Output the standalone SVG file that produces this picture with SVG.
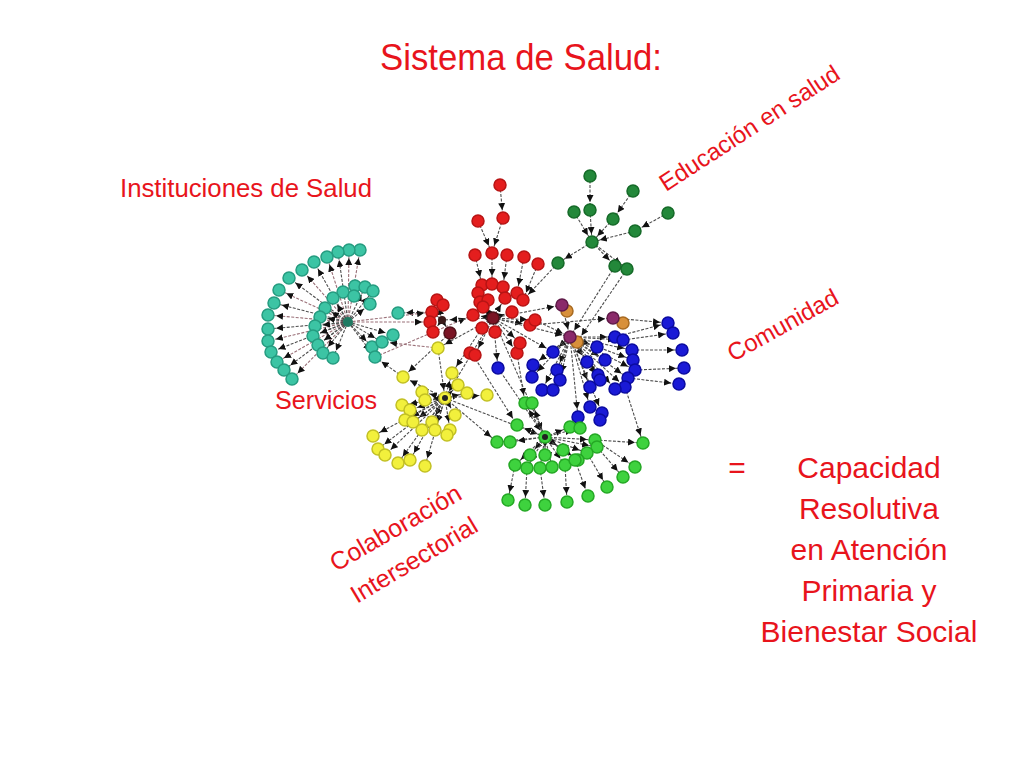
<svg xmlns="http://www.w3.org/2000/svg" width="1024" height="768" viewBox="0 0 1024 768">
<style>
.lbl{font-family:"Liberation Sans",Arial,sans-serif;fill:#e8141c}
.e{stroke:#4e4e4e;stroke-width:1.1;stroke-dasharray:3 1.5;fill:none;marker-end:url(#ah)}
.ep{stroke:#9a7078;stroke-width:1.1;stroke-dasharray:3 1.5;fill:none;marker-end:url(#ah)}
.t{fill:#3cc4a4;stroke:#259c80;stroke-width:1.5}
.r{fill:#e41e1e;stroke:#b81414;stroke-width:1.5}
.dr{fill:#7a1424;stroke:#501018;stroke-width:1.5}
.g{fill:#23883a;stroke:#156a28;stroke-width:1.5}
.b{fill:#1a1ad6;stroke:#0b0ba0;stroke-width:1.5}
.y{fill:#f2f03c;stroke:#c2c024;stroke-width:1.5}
.lg{fill:#3ed23e;stroke:#24a824;stroke-width:1.5}
.p{fill:#8a2a6a;stroke:#601a48;stroke-width:1.5}
.o{fill:#d8903a;stroke:#a86a20;stroke-width:1.5}
</style>
<defs>
<marker id="ah" markerUnits="userSpaceOnUse" markerWidth="16" markerHeight="7" refX="15" refY="3.5" orient="auto"><path d="M0,0 L7,3.5 L0,7 z" fill="#111"/></marker>
</defs>
<rect width="1024" height="768" fill="#ffffff"/>

<g id="labels">
<text class="lbl" x="380" y="70" font-size="37" textLength="282" lengthAdjust="spacingAndGlyphs">Sistema de Salud:</text>
<text class="lbl" x="120" y="197" font-size="25" textLength="252" lengthAdjust="spacingAndGlyphs">Instituciones de Salud</text>
<text class="lbl" x="275" y="409" font-size="25" textLength="102" lengthAdjust="spacingAndGlyphs">Servicios</text>
<text class="lbl" transform="translate(666,192) rotate(-33)" x="0" y="0" font-size="24">Educación en salud</text>
<text class="lbl" transform="translate(733,362) rotate(-29)" x="0" y="0" font-size="24">Comunidad</text>
<text class="lbl" transform="translate(336,572) rotate(-30)" x="0" y="0" font-size="25">Colaboración</text>
<text class="lbl" transform="translate(357,604) rotate(-31)" x="0" y="0" font-size="25">Intersectorial</text>
<text class="lbl" x="737" y="478" font-size="30" text-anchor="middle">=</text>
<text class="lbl" x="869" y="478" font-size="30" text-anchor="middle">Capacidad</text>
<text class="lbl" x="869" y="519" font-size="30" text-anchor="middle">Resolutiva</text>
<text class="lbl" x="869" y="560" font-size="30" text-anchor="middle">en Atención</text>
<text class="lbl" x="869" y="601" font-size="30" text-anchor="middle">Primaria y</text>
<text class="lbl" x="869" y="642" font-size="30" text-anchor="middle">Bienestar Social</text>
</g>

<g id="connectors">
<path class="ep" d="M348,322L360,250"/><path class="ep" d="M348,322L349,250"/><path class="e" d="M348,322L338,252"/><path class="ep" d="M348,322L327,257"/>
<path class="e" d="M348,322L314,262"/><path class="ep" d="M348,322L302,270"/><path class="e" d="M348,322L289,278"/><path class="ep" d="M348,322L279,290"/>
<path class="e" d="M348,322L274,303"/><path class="ep" d="M348,322L268,315"/><path class="e" d="M348,322L268,329"/><path class="ep" d="M348,322L268,341"/>
<path class="e" d="M348,322L271,352"/><path class="ep" d="M348,322L277,362"/><path class="e" d="M348,322L284,370"/><path class="ep" d="M348,322L292,379"/>
<path class="e" d="M348,322L365,287"/><path class="e" d="M348,322L373,291"/><path class="e" d="M348,322L333,298"/><path class="e" d="M348,322L325,308"/>
<path class="e" d="M348,322L320,317"/><path class="e" d="M348,322L315,326"/><path class="e" d="M348,322L313,336"/><path class="e" d="M348,322L318,345"/>
<path class="e" d="M348,322L323,353"/><path class="e" d="M348,322L333,358"/><path class="e" d="M348,322L372,347"/><path class="e" d="M348,322L375,357"/>
<path class="e" d="M348,322L382,342"/><path class="e" d="M348,322L393,335"/><path class="e" d="M348,322L370,304"/>
<path class="e" d="M437,312L398,313"/><path class="ep" d="M348,322L430,322"/><path class="ep" d="M348,322L432,312"/><path class="ep" d="M375,357L473,315"/>
<path class="ep" d="M438,348L382,342"/><path class="e" d="M403,377L375,357"/>
<path class="e" d="M500,185L503,218"/><path class="e" d="M503,218L492,253"/><path class="e" d="M478,221L492,253"/>
<path class="e" d="M475,255L482,285"/><path class="e" d="M492,253L492,284"/><path class="e" d="M507,255L503,287"/><path class="e" d="M524,257L517,293"/><path class="e" d="M538,264L523,300"/>
<path class="e" d="M493,318L478,293"/><path class="e" d="M493,318L480,302"/><path class="e" d="M493,318L505,298"/><path class="e" d="M493,318L473,315"/>
<path class="e" d="M493,318L512,312"/><path class="e" d="M493,318L482,328"/><path class="e" d="M493,318L530,325"/><path class="e" d="M493,318L535,320"/>
<path class="e" d="M493,318L475,355"/><path class="e" d="M493,318L517,353"/><path class="e" d="M493,318L520,343"/><path class="e" d="M493,318L442,320"/>
<path class="e" d="M442,320L437,300"/><path class="e" d="M442,320L432,312"/><path class="e" d="M442,320L433,332"/><path class="e" d="M442,320L450,333"/>
<path class="e" d="M493,318L445,398"/><path class="e" d="M493,318L438,348"/><path class="e" d="M493,318L545,437"/><path class="e" d="M493,318L498,368"/>
<path class="e" d="M493,318L553,352"/><path class="e" d="M493,318L570,337"/><path class="e" d="M493,318L562,305"/><path class="e" d="M450,333L403,377"/>
<path class="e" d="M473,355L517,425"/><path class="e" d="M517,353L525,403"/><path class="e" d="M482,328L452,373"/><path class="e" d="M530,325L613,318"/>
<path class="e" d="M590,176L590,210"/><path class="e" d="M590,210L592,242"/><path class="e" d="M574,212L592,242"/><path class="e" d="M633,191L613,219"/>
<path class="e" d="M613,219L592,242"/><path class="e" d="M668,213L635,231"/><path class="e" d="M635,231L592,242"/><path class="e" d="M592,242L615,266"/>
<path class="e" d="M592,242L627,269"/><path class="e" d="M592,242L558,263"/><path class="e" d="M558,263L523,300"/><path class="e" d="M615,266L570,337"/><path class="e" d="M627,269L577,342"/>
<path class="e" d="M562,305L570,337"/><path class="e" d="M535,320L570,337"/>
<path class="e" d="M570,337L553,352"/><path class="e" d="M570,337L597,347"/><path class="e" d="M570,337L605,360"/><path class="e" d="M570,337L587,362"/>
<path class="e" d="M570,337L557,370"/><path class="e" d="M570,337L533,365"/><path class="e" d="M570,337L598,375"/><path class="e" d="M570,337L615,337"/>
<path class="e" d="M570,337L623,340"/><path class="e" d="M570,337L632,350"/><path class="e" d="M570,337L633,360"/><path class="e" d="M570,337L635,370"/>
<path class="e" d="M570,337L628,378"/><path class="e" d="M570,337L625,387"/><path class="e" d="M570,337L615,389"/><path class="e" d="M570,337L560,380"/>
<path class="e" d="M570,337L532,377"/><path class="e" d="M570,337L542,390"/><path class="e" d="M570,337L553,390"/><path class="e" d="M570,337L590,387"/>
<path class="e" d="M570,337L600,380"/><path class="e" d="M570,337L590,407"/><path class="e" d="M570,337L602,413"/><path class="e" d="M570,337L578,417"/>
<path class="e" d="M615,337L668,323"/><path class="e" d="M623,340L673,333"/><path class="e" d="M632,350L682,350"/><path class="e" d="M635,370L684,368"/><path class="e" d="M628,378L679,384"/>
<path class="e" d="M613,318L668,323"/><path class="e" d="M498,368L545,437"/><path class="e" d="M625,387L643,443"/><path class="e" d="M595,440L643,443"/>
<path class="e" d="M445,398L403,377"/><path class="e" d="M445,398L452,373"/><path class="e" d="M445,398L458,385"/><path class="e" d="M445,398L467,393"/>
<path class="e" d="M445,398L487,395"/><path class="e" d="M445,398L422,392"/><path class="e" d="M445,398L425,400"/><path class="e" d="M445,398L402,405"/>
<path class="e" d="M445,398L410,410"/><path class="e" d="M445,398L405,420"/><path class="e" d="M445,398L413,422"/><path class="e" d="M445,398L432,422"/>
<path class="e" d="M445,398L455,415"/><path class="e" d="M445,398L422,430"/><path class="e" d="M445,398L435,430"/><path class="e" d="M445,398L450,430"/>
<path class="e" d="M445,398L373,436"/><path class="e" d="M445,398L378,449"/><path class="e" d="M445,398L385,455"/><path class="e" d="M445,398L398,463"/>
<path class="e" d="M445,398L410,460"/><path class="e" d="M445,398L425,466"/><path class="e" d="M438,348L445,398"/><path class="e" d="M445,398L497,442"/><path class="e" d="M445,398L545,437"/>
<path class="e" d="M545,437L525,403"/><path class="e" d="M545,437L532,403"/><path class="e" d="M545,437L517,425"/><path class="e" d="M545,437L497,442"/>
<path class="e" d="M545,437L510,442"/><path class="e" d="M545,437L570,427"/><path class="e" d="M545,437L580,428"/><path class="e" d="M545,437L595,440"/>
<path class="e" d="M545,437L597,447"/><path class="e" d="M545,437L587,453"/><path class="e" d="M545,437L578,460"/><path class="e" d="M545,437L563,450"/>
<path class="e" d="M545,437L530,455"/><path class="e" d="M545,437L545,455"/><path class="e" d="M545,437L515,465"/><path class="e" d="M545,437L527,468"/>
<path class="e" d="M545,437L540,468"/><path class="e" d="M545,437L552,467"/><path class="e" d="M545,437L565,465"/><path class="e" d="M545,437L575,460"/>
<path class="e" d="M515,465L508,500"/><path class="e" d="M527,468L525,505"/><path class="e" d="M540,468L545,505"/><path class="e" d="M565,465L567,502"/>
<path class="e" d="M575,460L588,496"/><path class="e" d="M587,453L607,487"/><path class="e" d="M597,447L623,477"/><path class="e" d="M595,440L635,467"/>
</g>

<g id="node-instituciones">
<circle class="t" cx="360" cy="250" r="6"/><circle class="t" cx="349" cy="250" r="6"/><circle class="t" cx="338" cy="252" r="6"/><circle class="t" cx="327" cy="257" r="6"/>
<circle class="t" cx="314" cy="262" r="6"/><circle class="t" cx="302" cy="270" r="6"/><circle class="t" cx="289" cy="278" r="6"/><circle class="t" cx="279" cy="290" r="6"/>
<circle class="t" cx="274" cy="303" r="6"/><circle class="t" cx="268" cy="315" r="6"/><circle class="t" cx="268" cy="329" r="6"/><circle class="t" cx="268" cy="341" r="6"/>
<circle class="t" cx="271" cy="352" r="6"/><circle class="t" cx="277" cy="362" r="6"/><circle class="t" cx="284" cy="370" r="6"/><circle class="t" cx="292" cy="379" r="6"/>
<circle class="t" cx="355" cy="286" r="6"/><circle class="t" cx="365" cy="287" r="6"/><circle class="t" cx="373" cy="291" r="6"/><circle class="t" cx="343" cy="292" r="6"/>
<circle class="t" cx="354" cy="296" r="6"/><circle class="t" cx="333" cy="298" r="6"/><circle class="t" cx="370" cy="304" r="6"/><circle class="t" cx="325" cy="308" r="6"/>
<circle class="t" cx="320" cy="317" r="6"/><circle class="t" cx="315" cy="326" r="6"/><circle class="t" cx="313" cy="336" r="6"/><circle class="t" cx="318" cy="345" r="6"/>
<circle class="t" cx="323" cy="353" r="6"/><circle class="t" cx="333" cy="358" r="6"/><circle class="t" cx="372" cy="347" r="6"/><circle class="t" cx="375" cy="357" r="6"/>
<circle class="t" cx="382" cy="342" r="6"/><circle class="t" cx="393" cy="335" r="6"/><circle class="t" cx="398" cy="313" r="6"/>
<circle cx="348" cy="322" r="5" fill="#1f7a62"/>
</g>

<g id="node-red">
<circle class="r" cx="500" cy="185" r="6"/><circle class="r" cx="503" cy="218" r="6"/><circle class="r" cx="478" cy="221" r="6"/>
<circle class="r" cx="475" cy="255" r="6"/><circle class="r" cx="492" cy="253" r="6"/><circle class="r" cx="507" cy="255" r="6"/><circle class="r" cx="524" cy="257" r="6"/><circle class="r" cx="538" cy="264" r="6"/>
<circle class="r" cx="482" cy="285" r="6"/><circle class="r" cx="492" cy="284" r="6"/><circle class="r" cx="503" cy="287" r="6"/><circle class="r" cx="478" cy="293" r="6"/>
<circle class="r" cx="480" cy="302" r="6"/><circle class="r" cx="488" cy="300" r="6"/><circle class="r" cx="505" cy="298" r="6"/><circle class="r" cx="517" cy="293" r="6"/>
<circle class="r" cx="523" cy="300" r="6"/><circle class="r" cx="473" cy="315" r="6"/><circle class="r" cx="483" cy="307" r="6"/><circle class="r" cx="512" cy="312" r="6"/>
<circle class="r" cx="482" cy="328" r="6"/><circle class="r" cx="495" cy="332" r="6"/><circle class="r" cx="530" cy="325" r="6"/><circle class="r" cx="535" cy="320" r="6"/>
<circle class="r" cx="437" cy="300" r="6"/><circle class="r" cx="443" cy="305" r="6"/><circle class="r" cx="432" cy="312" r="6"/><circle class="r" cx="430" cy="322" r="6"/>
<circle class="r" cx="433" cy="332" r="6"/><circle class="r" cx="470" cy="353" r="6"/><circle class="r" cx="475" cy="355" r="6"/><circle class="r" cx="517" cy="353" r="6"/><circle class="r" cx="520" cy="343" r="6"/>
<circle class="dr" cx="450" cy="333" r="6"/><circle class="dr" cx="493" cy="318" r="6"/><circle cx="442" cy="320" r="4" fill="#3a1a1a"/>
</g>

<g id="node-educacion">
<circle class="g" cx="590" cy="176" r="6"/><circle class="g" cx="633" cy="191" r="6"/><circle class="g" cx="668" cy="213" r="6"/><circle class="g" cx="574" cy="212" r="6"/>
<circle class="g" cx="590" cy="210" r="6"/><circle class="g" cx="613" cy="219" r="6"/><circle class="g" cx="635" cy="231" r="6"/><circle class="g" cx="592" cy="242" r="6"/>
<circle class="g" cx="615" cy="266" r="6"/><circle class="g" cx="627" cy="269" r="6"/><circle class="g" cx="558" cy="263" r="6"/>
</g>

<g id="node-comunidad">
<circle class="o" cx="567" cy="311" r="6"/><circle class="p" cx="562" cy="305" r="6"/>
<circle class="o" cx="623" cy="323" r="6"/><circle class="p" cx="613" cy="318" r="6"/>
<circle class="o" cx="577" cy="342" r="6"/><circle class="p" cx="570" cy="337" r="6"/>
<circle class="b" cx="668" cy="323" r="6"/><circle class="b" cx="673" cy="333" r="6"/><circle class="b" cx="682" cy="350" r="6"/><circle class="b" cx="684" cy="368" r="6"/><circle class="b" cx="679" cy="384" r="6"/>
<circle class="b" cx="615" cy="337" r="6"/><circle class="b" cx="623" cy="340" r="6"/><circle class="b" cx="632" cy="350" r="6"/><circle class="b" cx="633" cy="360" r="6"/>
<circle class="b" cx="635" cy="370" r="6"/><circle class="b" cx="628" cy="378" r="6"/><circle class="b" cx="625" cy="387" r="6"/><circle class="b" cx="615" cy="389" r="6"/>
<circle class="b" cx="597" cy="347" r="6"/><circle class="b" cx="605" cy="360" r="6"/><circle class="b" cx="587" cy="362" r="6"/><circle class="b" cx="598" cy="375" r="6"/>
<circle class="b" cx="590" cy="387" r="6"/><circle class="b" cx="600" cy="380" r="6"/><circle class="b" cx="553" cy="352" r="6"/><circle class="b" cx="557" cy="370" r="6"/>
<circle class="b" cx="560" cy="380" r="6"/><circle class="b" cx="533" cy="365" r="6"/><circle class="b" cx="532" cy="377" r="6"/><circle class="b" cx="542" cy="390" r="6"/>
<circle class="b" cx="553" cy="390" r="6"/><circle class="b" cx="498" cy="368" r="6"/><circle class="b" cx="590" cy="407" r="6"/><circle class="b" cx="602" cy="413" r="6"/>
<circle class="b" cx="578" cy="417" r="6"/><circle class="b" cx="600" cy="420" r="6"/>
</g>

<g id="node-servicios">
<circle class="y" cx="438" cy="348" r="6"/><circle class="y" cx="403" cy="377" r="6"/><circle class="y" cx="452" cy="373" r="6"/><circle class="y" cx="458" cy="385" r="6"/><circle class="y" cx="467" cy="393" r="6"/>
<circle class="y" cx="487" cy="395" r="6"/><circle class="y" cx="422" cy="392" r="6"/><circle class="y" cx="425" cy="400" r="6"/><circle class="y" cx="402" cy="405" r="6"/>
<circle class="y" cx="410" cy="410" r="6"/><circle class="y" cx="405" cy="420" r="6"/><circle class="y" cx="413" cy="422" r="6"/><circle class="y" cx="432" cy="422" r="6"/>
<circle class="y" cx="455" cy="415" r="6"/><circle class="y" cx="422" cy="430" r="6"/><circle class="y" cx="435" cy="430" r="6"/><circle class="y" cx="450" cy="430" r="6"/>
<circle class="y" cx="447" cy="435" r="6"/><circle class="y" cx="373" cy="436" r="6"/><circle class="y" cx="378" cy="449" r="6"/><circle class="y" cx="385" cy="455" r="6"/>
<circle class="y" cx="398" cy="463" r="6"/><circle class="y" cx="410" cy="460" r="6"/><circle class="y" cx="425" cy="466" r="6"/><circle class="y" cx="445" cy="398" r="6"/>
<circle cx="445" cy="398" r="3" fill="#222"/>
</g>

<g id="node-colaboracion">
<circle class="lg" cx="525" cy="403" r="6"/><circle class="lg" cx="532" cy="403" r="6"/><circle class="lg" cx="517" cy="425" r="6"/><circle class="lg" cx="497" cy="442" r="6"/>
<circle class="lg" cx="510" cy="442" r="6"/><circle class="lg" cx="570" cy="427" r="6"/><circle class="lg" cx="580" cy="428" r="6"/><circle class="lg" cx="595" cy="440" r="6"/>
<circle class="lg" cx="597" cy="447" r="6"/><circle class="lg" cx="587" cy="453" r="6"/><circle class="lg" cx="578" cy="460" r="6"/><circle class="lg" cx="563" cy="450" r="6"/>
<circle class="lg" cx="530" cy="455" r="6"/><circle class="lg" cx="545" cy="455" r="6"/><circle class="lg" cx="515" cy="465" r="6"/><circle class="lg" cx="527" cy="468" r="6"/>
<circle class="lg" cx="540" cy="468" r="6"/><circle class="lg" cx="552" cy="467" r="6"/><circle class="lg" cx="565" cy="465" r="6"/><circle class="lg" cx="575" cy="460" r="6"/>
<circle class="lg" cx="635" cy="467" r="6"/><circle class="lg" cx="623" cy="477" r="6"/><circle class="lg" cx="607" cy="487" r="6"/><circle class="lg" cx="588" cy="496" r="6"/>
<circle class="lg" cx="567" cy="502" r="6"/><circle class="lg" cx="545" cy="505" r="6"/><circle class="lg" cx="525" cy="505" r="6"/><circle class="lg" cx="508" cy="500" r="6"/>
<circle class="lg" cx="643" cy="443" r="6"/><circle class="lg" cx="545" cy="437" r="6"/><circle cx="545" cy="437" r="3" fill="#222"/>
</g>
</svg>
